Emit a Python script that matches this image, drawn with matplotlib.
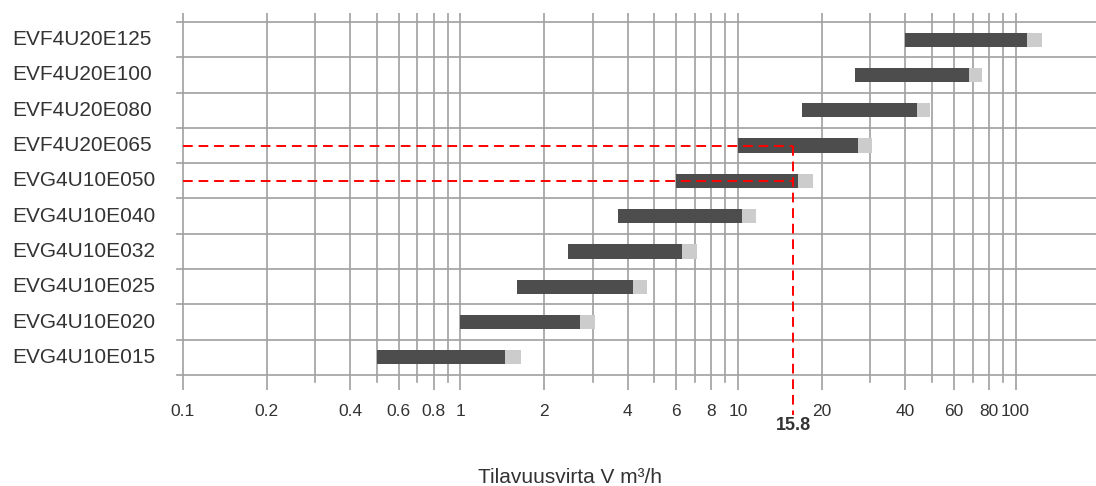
import numpy as np
import matplotlib
matplotlib.use("Agg")
import matplotlib.pyplot as plt

# --- data (rows listed bottom to top) ---
models = ["EVG4U10E015", "EVG4U10E020", "EVG4U10E025", "EVG4U10E032",
          "EVG4U10E040", "EVG4U10E050", "EVF4U20E065", "EVF4U20E080",
          "EVF4U20E100", "EVF4U20E125"]
flow_min = [0.5, 1.0, 1.6, 2.45, 3.7, 6.0, 10.0, 17.0, 26.5, 40.0]
flow_max = [1.45, 2.7, 4.2, 6.3, 10.3, 16.5, 27.0, 44.0, 68.0, 110.0]
flow_ext = [1.65, 3.05, 4.7, 7.1, 11.6, 18.6, 30.5, 49.0, 76.0, 125.0]

major_ticks = [0.1, 0.2, 0.4, 0.6, 0.8, 1, 2, 4, 6, 8, 10, 20, 40, 60, 80, 100]
major_labels = ["0.1", "0.2", "0.4", "0.6", "0.8", "1", "2", "4", "6", "8",
                "10", "20", "40", "60", "80", "100"]
minor_ticks = [0.3, 0.5, 0.7, 0.9, 3, 5, 7, 9, 30, 50, 70, 90]

selected_flow = 15.8
selected_rows = ["EVF4U20E065", "EVG4U10E050"]
xlabel = "Tilavuusvirta V m³/h"

plt.rcParams["font.family"] = ["Liberation Sans", "DejaVu Sans"]
text_col = "#333333"
grid_col = "#a0a0a0"

fig = plt.figure(figsize=(10.96, 4.86), dpi=100)
ax = fig.add_axes([175 / 1096, 96 / 486, 921 / 1096, 377 / 486])
ax.set_xscale("log")
ax.set_xlim(0.0936, 195)
ax.set_ylim(-0.925, 9.755)
for s in ax.spines.values():
    s.set_visible(False)

# grid: majors reach down to the labels, minors a bit shorter
for v in major_ticks:
    ax.axvline(v, ymin=0, ymax=1, color=grid_col, lw=1.2, zorder=1)
for v in minor_ticks:
    ax.axvline(v, ymin=0.021, ymax=1, color=grid_col, lw=1.2, zorder=1)
for b in np.arange(-0.5, len(models), 1.0):
    ax.axhline(b, xmin=0.002, xmax=1, color=grid_col, lw=1.2, zorder=1)

y = np.arange(len(models))
lo = np.array(flow_min)
ax.barh(y, np.array(flow_ext) - lo, left=lo, height=0.4, color="#cccccc", zorder=2)
ax.barh(y, np.array(flow_max) - lo, left=lo, height=0.4, color="#4d4d4d", zorder=3)

# selection lines
dash = (0, (5, 3))
for name in selected_rows:
    yi = models.index(name)
    ax.plot([major_ticks[0], selected_flow], [yi, yi], color="#ff0000", lw=1.4,
            linestyle=dash, zorder=4)
ytop = models.index(selected_rows[0])
ax.plot([selected_flow, selected_flow], [ytop, -1.633], color="#ff0000", lw=1.4,
        linestyle=dash, zorder=4, clip_on=False)
ax.text(selected_flow, -0.093, f"{selected_flow:g}", transform=ax.get_xaxis_transform(),
        ha="center", va="center", fontsize=13, fontweight="bold", color=text_col)

ax.set_xticks(major_ticks)
ax.set_xticklabels(major_labels)
ax.set_xticks([], minor=True)
ax.tick_params(axis="x", length=0, pad=10, labelsize=12.5, labelcolor=text_col)
ax.set_yticks([])

# row labels, left aligned near figure edge
for yi, name in zip(y, models):
    ax.text(-0.177, yi, name, transform=ax.get_yaxis_transform(), ha="left",
            va="center", fontsize=15, color=text_col)

fig.text(570 / 1096, 1 - 477 / 486, xlabel, ha="center", va="center",
         fontsize=15, color=text_col)

fig.savefig("out.png", dpi=100)
